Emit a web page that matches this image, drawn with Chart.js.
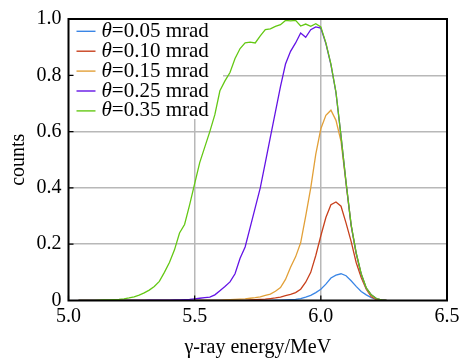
<!DOCTYPE html>
<html>
<head>
<meta charset="utf-8">
<script src="https://cdn.jsdelivr.net/npm/chart.js@4/dist/chart.umd.min.js"></script>
<style>
  html, body { margin: 0; padding: 0; background: #fff; }
  canvas { display: block; }
</style>
</head>
<body>
<canvas id="chart1" width="468" height="360"></canvas>
<script>
// gamma-ray energy (MeV)
const energy = [
  5.04, 5.06, 5.08, 5.10, 5.12, 5.14, 5.16, 5.18, 5.20, 5.22,
  5.24, 5.26, 5.28, 5.30, 5.32, 5.34, 5.36, 5.38, 5.40, 5.42,
  5.44, 5.46, 5.48, 5.50, 5.52, 5.54, 5.56, 5.58, 5.60, 5.62,
  5.64, 5.66, 5.68, 5.70, 5.72, 5.74, 5.76, 5.78, 5.80, 5.82,
  5.84, 5.86, 5.88, 5.90, 5.92, 5.94, 5.96, 5.98, 6.00, 6.02,
  6.04, 6.06, 6.08, 6.10, 6.12, 6.14, 6.16, 6.18, 6.20, 6.22,
  6.24, 6.26
];

// counts for each angle
const theta005 = [
  0, 0, 0, 0, 0, 0, 0, 0, 0, 0,
  0, 0, 0, 0, 0, 0, 0, 0, 0, 0,
  0, 0, 0, 0, 0, 0, 0, 0, 0, 0,
  0, 0, 0, 0, 0, 0, 0, 0, 0, 0.001,
  0.001, 0.002, 0.003, 0.004, 0.007, 0.012, 0.018, 0.028, 0.04, 0.058,
  0.08, 0.09, 0.095, 0.088, 0.07, 0.05, 0.032, 0.02, 0.01, 0.004,
  0.001, 0
];
const theta010 = [
  0, 0, 0, 0, 0, 0, 0, 0, 0, 0,
  0, 0, 0, 0, 0, 0, 0, 0, 0, 0,
  0, 0, 0, 0, 0, 0, 0, 0, 0, 0,
  0, 0, 0, 0, 0.002, 0.003, 0.004, 0.005, 0.007, 0.009,
  0.012, 0.017, 0.022, 0.028, 0.04, 0.065, 0.1, 0.16, 0.23, 0.295,
  0.34, 0.35, 0.335, 0.275, 0.21, 0.135, 0.082, 0.04, 0.013, 0.004,
  0.001, 0
];
const theta015 = [
  0, 0, 0, 0, 0, 0, 0, 0, 0, 0,
  0, 0, 0, 0, 0, 0, 0, 0, 0, 0,
  0, 0, 0, 0, 0, 0, 0, 0, 0, 0.002,
  0.003, 0.004, 0.005, 0.006, 0.008, 0.01, 0.013, 0.018, 0.023, 0.033,
  0.046, 0.075, 0.118, 0.155, 0.205, 0.3, 0.4, 0.52, 0.61, 0.658,
  0.676, 0.64, 0.565, 0.415, 0.266, 0.166, 0.092, 0.043, 0.018, 0.006,
  0.002, 0
];
const theta025 = [
  0, 0, 0, 0, 0, 0, 0, 0, 0, 0,
  0, 0, 0, 0, 0.001, 0.001, 0.001, 0.001, 0.001, 0.002,
  0.002, 0.003, 0.004, 0.006, 0.008, 0.01, 0.012, 0.02, 0.035, 0.05,
  0.066, 0.095, 0.15, 0.19, 0.26, 0.33, 0.4, 0.49, 0.58, 0.67,
  0.76, 0.84, 0.885, 0.915, 0.95, 0.935, 0.962, 0.972, 0.968, 0.913,
  0.838, 0.738, 0.584, 0.418, 0.268, 0.168, 0.094, 0.044, 0.02, 0.007,
  0.002, 0
];
const theta035 = [
  0, 0, 0, 0, 0.001, 0.002, 0.002, 0.003, 0.004, 0.006,
  0.009, 0.013, 0.019, 0.027, 0.037, 0.05, 0.068, 0.1, 0.135, 0.18,
  0.24, 0.27, 0.34, 0.415, 0.49, 0.545, 0.6, 0.66, 0.745, 0.78,
  0.81, 0.86, 0.895, 0.915, 0.918, 0.915, 0.94, 0.962, 0.965, 0.974,
  0.98, 0.995, 0.993, 0.995, 0.975, 0.982, 0.974, 0.983, 0.972, 0.915,
  0.84, 0.74, 0.585, 0.42, 0.27, 0.17, 0.095, 0.045, 0.02, 0.007,
  0.002, 0
];

const seriesNames = ['0.05 mrad', '0.10 mrad', '0.15 mrad', '0.25 mrad', '0.35 mrad'];
const seriesData = [theta005, theta010, theta015, theta025, theta035];
const seriesColors = ['#3a86e6', '#c8401c', '#e2a038', '#6414e6', '#64c814'];

const xTicks = [5.0, 5.5, 6.0, 6.5];
const yTicks = [0, 0.2, 0.4, 0.6, 0.8, 1.0];

const FONT = 'Liberation Serif';

// frame + inward tick marks
const framePlugin = {
  id: 'frame',
  afterDatasetsDraw(chart) {
    const ctx = chart.ctx;
    const a = chart.chartArea;
    const xs = chart.scales.x, ys = chart.scales.y;
    ctx.save();
    ctx.strokeStyle = '#000';
    ctx.lineWidth = 1.2;
    ctx.beginPath();
    xTicks.forEach(v => {
      const px = xs.getPixelForValue(v);
      ctx.moveTo(px, a.bottom); ctx.lineTo(px, a.bottom - 5);
    });
    yTicks.forEach(v => {
      const py = ys.getPixelForValue(v);
      ctx.moveTo(a.left, py); ctx.lineTo(a.left + 5, py);
    });
    ctx.stroke();
    ctx.lineWidth = 2;
    ctx.strokeRect(a.left, a.top, a.right - a.left, a.bottom - a.top);
    ctx.restore();
  }
};

// legend with italic theta, white box under the data
const legendPlugin = {
  id: 'thetaLegend',
  beforeDatasetsDraw(chart) {
    const ctx = chart.ctx;
    const a = chart.chartArea;
    ctx.save();
    ctx.fillStyle = '#fff';
    ctx.fillRect(a.left + 1, a.top + 1, 222 - a.left, 118 - a.top);
    ctx.textBaseline = 'middle';
    seriesNames.forEach((name, i) => {
      const y = a.top + 12.3 + i * 19.9;
      ctx.strokeStyle = seriesColors[i];
      ctx.lineWidth = 1.4;
      ctx.beginPath();
      ctx.moveTo(a.left + 8, y); ctx.lineTo(a.left + 27, y);
      ctx.stroke();
      ctx.fillStyle = '#000';
      ctx.font = 'italic 21px "' + FONT + '"';
      let x = a.left + 33;
      ctx.fillText('\u03b8', x, y);
      x += ctx.measureText('\u03b8').width;
      ctx.font = '21px "' + FONT + '"';
      ctx.fillText('=' + name, x, y);
    });
    ctx.restore();
  }
};

const datasets = seriesData.map((s, i) => ({
  label: '\u03b8=' + seriesNames[i],
  data: energy.map((e, j) => ({ x: e, y: s[j] })),
  borderColor: seriesColors[i],
  backgroundColor: seriesColors[i],
  borderWidth: 1.3,
  pointRadius: 0,
  tension: 0,
  fill: false,
  order: seriesData.length - i   // later series on top
}));

// no grid line on the frame edges
const gridColor = (ctx) =>
  (ctx.index === 0 || ctx.index === ctx.scale.ticks.length - 1) ? 'rgba(0,0,0,0)' : '#b8b8b8';

new Chart(document.getElementById('chart1').getContext('2d'), {
  type: 'line',
  data: { datasets },
  options: {
    responsive: false,
    animation: false,
    devicePixelRatio: 1,
    layout: { padding: { left: 0, right: 21, top: 15, bottom: 0 } },
    plugins: {
      legend: { display: false },
      tooltip: { enabled: false }
    },
    scales: {
      x: {
        type: 'linear',
        min: 5.0,
        max: 6.5,
        afterBuildTicks: (scale) => { scale.ticks = xTicks.map(v => ({ value: v })); },
        afterFit: (scale) => { scale.height = 59.5; },
        ticks: {
          color: '#000',
          padding: 4,
          font: { family: FONT, size: 20 },
          callback: (v) => Number(v).toFixed(1)
        },
        grid: { color: gridColor, lineWidth: 1.5, drawTicks: false },
        border: { display: false },
        title: {
          display: true,
          text: '\u03b3-ray energy/MeV',
          color: '#000',
          font: { family: FONT, size: 20 },
          padding: { top: 0, bottom: 0 }
        }
      },
      y: {
        min: 0,
        max: 1.0,
        afterBuildTicks: (scale) => { scale.ticks = yTicks.map(v => ({ value: v })); },
        afterFit: (scale) => { scale.width = 68.5; },
        ticks: {
          color: '#000',
          padding: 7,
          font: { family: FONT, size: 20 },
          callback: (v) => v === 0 ? '0' : Number(v).toFixed(1)
        },
        grid: { color: gridColor, lineWidth: 1.5, drawTicks: false },
        border: { display: false },
        title: {
          display: true,
          text: 'counts',
          color: '#000',
          font: { family: FONT, size: 20 },
          padding: { top: 7, bottom: 0 }
        }
      }
    }
  },
  plugins: [legendPlugin, framePlugin]
});
</script>
</body>
</html>
